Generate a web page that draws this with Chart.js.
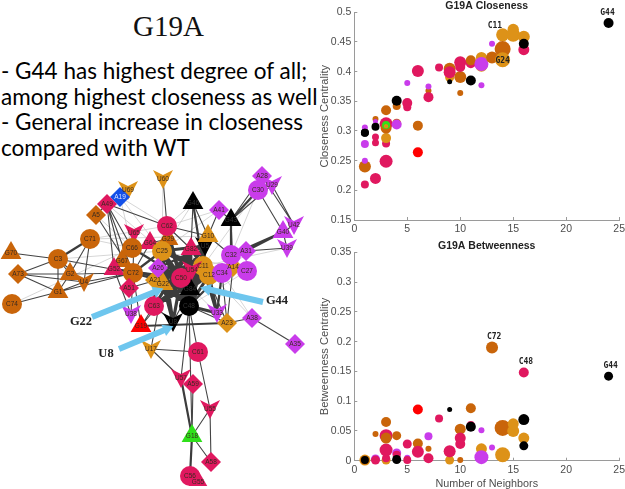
<!DOCTYPE html>
<html>
<head>
<meta charset="utf-8">
<title>G19A</title>
<script src="https://cdn.jsdelivr.net/npm/chart.js@4/dist/chart.umd.min.js"></script>
<style>
    html, body { margin: 0; padding: 0; background: #fff; overflow: hidden; }
    #page { position: relative; width: 625px; height: 489px; overflow: hidden; }
    canvas { position: absolute; }
    #heading { position: absolute; left: 0; top: 10px; width: 337px; text-align: center; font: 29px "Liberation Serif", serif; color: #111; }
    #notes { position: absolute; left: 1px; top: 58px; font: 22.5px/25.6px Lato, sans-serif; color: #000; white-space: nowrap; }
</style>
</head>
<body>
<div id="page">
    <div id="heading">G19A</div>
    <div id="notes">- G44 has highest degree of all;<br>among highest closeness as well<br>- General increase in closeness<br>compared with WT</div>
    <canvas id="network" width="320" height="326" style="left:0;top:160px"></canvas>
    <canvas id="closeness" width="311" height="240" style="left:320px;top:0"></canvas>
    <canvas id="betweenness" width="311" height="249" style="left:320px;top:240px"></canvas>
</div>
<script>
// groups: o = dark orange, m = mustard, c = crimson, p = purple, k = black, r = red, g = green, b = blue
const groupColors = { o: '#c9650a', m: '#dd9218', c: '#e0185f', p: '#c93ceb', k: '#000000', r: '#ff0000', g: '#2fe01a', b: '#1450e8' };

// closeness vs neighbors
const closeNeighbors = [1, 1, 2, 1, 1, 1, 2, 2, 3, 3, 3, 3, 2, 2, 2, 3, 3, 3, 3, 3, 4, 4, 4, 4, 5, 5, 5, 6, 6, 6, 7, 7, 7, 8, 9, 9, 9, 9, 10, 10, 10, 10, 11, 11, 11, 12, 12, 12, 12, 13, 13, 14, 14, 14, 15, 15, 16, 16, 16, 24, 1, 1];
const closeValues = [0.21, 0.24, 0.22, 0.25, 0.278, 0.306, 0.28, 0.29, 0.249, 0.279, 0.288, 0.335, 0.32, 0.316, 0.307, 0.312, 0.305, 0.31, 0.308, 0.308, 0.342, 0.351, 0.313, 0.311, 0.34, 0.347, 0.381, 0.309, 0.264, 0.401, 0.368, 0.375, 0.357, 0.407, 0.39, 0.405, 0.399, 0.383, 0.364, 0.391, 0.408, 0.416, 0.414, 0.419, 0.385, 0.41, 0.424, 0.413, 0.377, 0.424, 0.447, 0.462, 0.438, 0.42, 0.471, 0.462, 0.459, 0.437, 0.447, 0.482, 0.297, 0.297];
const closeSizes = [4, 6, 5.5, 3, 4, 3, 3.5, 3.5, 6.5, 4, 5, 5, 3, 2.5, 4, 6.5, 5.5, 4, 2, 2, 4, 5, 4.5, 5, 4, 5, 3, 5, 5, 6, 3, 3, 5, 4, 4.5, 6, 6, 2.5, 3, 6, 5, 6, 5, 5, 5, 6, 5.5, 7, 3, 6, 3, 6.5, 8, 7.5, 5.7, 7, 6, 5.5, 5, 5, 4, 4];
const closeGroups = ['c', 'o', 'c', 'p', 'p', 'p', 'c', 'c', 'c', 'c', 'm', 'o', 'o', 'p', 'k', 'c', 'o', 'g', 'm', 'm', 'o', 'k', 'o', 'p', 'c', 'c', 'p', 'o', 'r', 'c', 'o', 'p', 'c', 'c', 'm', 'o', 'c', 'k', 'o', 'o', 'c', 'c', 'c', 'o', 'k', 'm', 'm', 'p', 'p', 'o', 'p', 'm', 'o', 'm', 'm', 'm', 'm', 'c', 'k', 'k', 'k', 'k'];
const closeNotes = ['C11', 'G24', 'G44'];
const closeNoteX = [13.27, 14, 23.9];
const closeNoteY = [0.4775, 0.418, 0.499];

// betweenness vs neighbors
const betweenNeighbors = [1, 1, 1, 2, 2, 2, 3, 3, 3, 3, 3, 3, 4, 4, 4, 4, 5, 5, 5, 6, 6, 6, 7, 7, 7, 8, 9, 9, 9, 9, 10, 10, 10, 10, 11, 11, 11, 12, 12, 12, 13, 13, 14, 14, 15, 15, 16, 16, 16, 16, 24];
const betweenValues = [0.001, 0.001, 0.001, 0.045, 0.003, 0.001, 0.001, 0.004, 0.018, 0.042, 0.038, 0.065, 0.042, 0.013, 0.01, 0.002, 0.028, 0.005, 0.001, 0.029, 0.015, 0.086, 0.041, 0.02, 0.004, 0.071, 0.001, 0.014, 0.016, 0.086, 0.001, 0.053, 0.028, 0.038, 0.088, 0.06, 0.057, 0.02, 0.051, 0.006, 0.19, 0.022, 0.01, 0.055, 0.05, 0.062, 0.038, 0.148, 0.025, 0.069, 0.142];
const betweenSizes = [5.5, 4.5, 4, 3, 4.5, 4.5, 4.5, 4, 6.5, 6.5, 5.5, 5, 4.5, 4.5, 4, 4.5, 4.5, 3, 4, 5, 6, 5, 4, 3, 5, 4, 4.5, 5, 6, 2.5, 3, 5.5, 5, 5.5, 5, 4, 5, 5.5, 3, 7, 6, 3, 7.5, 8, 6, 5.5, 5.5, 5, 4.5, 5.5, 4.5];
const betweenGroups = ['m', 'o', 'k', 'o', 'p', 'c', 'm', 'c', 'c', 'c', 'o', 'o', 'o', 'p', 'c', 'k', 'c', 'p', 'c', 'o', 'c', 'r', 'p', 'o', 'c', 'c', 'm', 'o', 'c', 'k', 'o', 'o', 'c', 'c', 'o', 'c', 'k', 'm', 'p', 'p', 'o', 'p', 'm', 'o', 'm', 'm', 'm', 'c', 'k', 'k', 'k'];
const betweenNotes = ['C72', 'C48', 'G44'];
const betweenNoteX = [13.2, 16.2, 24.2];
const betweenNoteY = [0.208, 0.166, 0.159];

// network nodes, first letter of the name gives the shape
const nodeNames = ['G70', 'C3', 'A73', 'G2', 'U4', 'G1', 'C74', 'C71', 'A5', 'U69', 'A19', 'A49', 'U60', 'G46', 'G43', 'A41', 'A28', 'U29', 'C30', 'U42', 'G40', 'U39', 'G29', 'C62', 'U5', 'G10', 'G82', 'U65', 'G64', 'G67', 'C66', 'C25', 'G52', 'C72', 'A51', 'A14', 'A31', 'C27', 'C11', 'C12', 'C32', 'C34', 'G84', 'A21', 'G22', 'A26', 'U54', 'C50', 'C63', 'C48', 'U38', 'U33', 'A23', 'A38', 'A35', 'G19', 'U8', 'U17', 'C61', 'U57', 'A59', 'U55', 'G18', 'A58', 'G55', 'C56'];
const nodeX = [11, 58, 18, 70, 84, 58, 12, 90, 96, 128, 120, 107, 163, 193, 231, 219, 262, 272, 258, 294, 283, 287, 168, 167, 205, 208, 191, 134, 150, 122, 132, 162, 114, 133, 129, 233, 246, 247, 203, 209, 231, 222, 190, 155, 163, 158, 192, 181, 154, 189, 131, 217, 227, 252, 295, 141, 173, 151, 198, 181, 193, 210, 192, 211, 198, 190];
const nodeY = [253, 259, 274, 274, 282, 292, 304, 239, 215, 190, 197, 204, 179, 203, 220, 210, 176, 185, 190, 225, 232, 248, 239, 226, 246, 236, 249, 233, 243, 261, 248, 251, 269, 273, 288, 267, 251, 271, 266, 275, 255, 273, 289, 280, 284, 268, 270, 278, 306, 306, 314, 313, 323, 318, 344, 326, 322, 349, 352, 378, 384, 409, 436, 462, 482, 476];
const nodeGroups = ['o', 'o', 'o', 'o', 'o', 'o', 'o', 'o', 'o', 'm', 'b', 'c', 'm', 'k', 'k', 'p', 'p', 'p', 'p', 'p', 'p', 'p', 'o', 'c', 'k', 'm', 'c', 'c', 'c', 'o', 'o', 'm', 'c', 'o', 'c', 'm', 'p', 'p', 'm', 'm', 'p', 'p', 'k', 'm', 'm', 'p', 'c', 'c', 'c', 'k', 'p', 'p', 'm', 'p', 'p', 'r', 'k', 'm', 'c', 'c', 'c', 'c', 'g', 'c', 'c', 'c'];

// network edges as "from to" by weight
const lightEdges = ['A19 C66', 'A19 C25', 'A19 C62', 'A49 C25', 'C71 C66', 'C71 C62', 'A5 C66', 'C3 C25', 'G46 C62', 'G46 C25', 'C30 C11', 'C30 C32', 'A41 C25', 'A38 C11', 'A38 C34', 'A14 C25', 'C74 C66', 'U60 C25', 'C27 C48', 'C62 A41', 'G10 C71', 'A23 C50', 'U39 C11', 'A31 C27'];
const mediumEdges = ['C3 G70', 'C3 A73', 'A73 G1', 'A73 G2', 'A73 U4', 'C74 G1', 'G1 U4', 'G1 C3', 'G1 G2', 'C3 G2', 'C3 U4', 'C71 U4', 'C71 G2', 'G2 C72', 'U4 C72', 'G1 C72', 'C3 C72', 'A49 C66', 'A49 G52', 'A49 C72', 'A49 C62', 'A5 A49', 'A5 C72', 'A49 G67', 'U60 C62', 'C62 G10', 'C62 G82', 'G46 G10', 'G46 G82', 'A41 G43', 'A41 G10', 'G43 A28', 'G43 U29', 'C30 G40', 'U29 U42', 'A28 U42', 'A31 U39', 'G40 U39', 'U42 G40', 'A38 A35', 'A23 A38', 'G43 A14', 'A14 A23', 'C34 A23', 'U17 C61', 'U17 U57', 'U17 G22', 'C61 U55', 'C48 U57', 'C48 C61', 'C48 G18', 'A59 G18', 'U55 G18', 'U55 A58', 'G18 A58', 'U65 C66', 'G64 C72', 'G64 C66', 'C66 G52', 'C63 G19', 'U38 C72', 'U38 G52', 'C48 A23', 'C11 A23', 'C62 C25', 'U65 C72', 'G29 G64', 'C32 G10', 'A51 C72', 'A51 U54', 'G19 C72', 'G19 C50', 'U8 C63', 'U8 C11'];
const heavyEdges = ['C71 C3', 'G43 C30', 'C32 G40', 'A31 G40', 'U57 G18', 'G18 C56', 'G43 C32', 'G46 C11', 'G19 A23', 'C62 C50', 'G10 C11', 'G10 G22', 'C66 C50', 'G52 C50', 'C72 C25', 'C72 G84', 'A21 C63', 'U33 C34', 'C48 C34', 'C62 C48', 'G29 C48', 'G10 C48', 'U5 C48', 'C25 C34', 'A26 U5', 'C25 C63'];
const coreEdges = ['G22 C48', 'C25 C48', 'C50 C48', 'C11 C48', 'G84 C25', 'C25 C50', 'C25 C11', 'A21 C48', 'C72 C50', 'C12 C48', 'C12 C63', 'U33 C11', 'A26 C48', 'G82 C48', 'A26 C11', 'A26 G84', 'G82 G22', 'G22 U8', 'C25 U8', 'U33 C12', 'G82 C63', 'C25 C12', 'C50 U8', 'A21 G84', 'G22 C12', 'C11 C63', 'U54 A21', 'G82 C50', 'G82 G84', 'U5 C25', 'G82 C12', 'C11 C50', 'C12 C50', 'A26 C50', 'G22 G84', 'C48 U33', 'G84 C12', 'C11 G84', 'U5 C50', 'U5 G84'];

// pale blue callout arrows
const arrowNames = ['G22', 'G44', 'U8'];
const arrowFromX = [92, 263, 119];
const arrowFromY = [317, 302, 349];
const arrowToX = [157, 207, 167];
const arrowToY = [291, 289, 329];
const arrowLabelX = [81, 277, 106];
const arrowLabelY = [322, 301, 354];

function nodePoint(name) {
    const i = nodeNames.indexOf(name);
    return { x: nodeX[i], y: nodeY[i] };
}

function edgePoints(edges) {
    const points = [];
    edges.forEach(edge => {
        const [from, to] = edge.split(' ');
        points.push(nodePoint(from), nodePoint(to), { x: NaN, y: NaN });
    });
    return points;
}

// the U nodes are drawn as notched chevrons
const chevrons = {};
function chevron(group) {
    if (!chevrons[group]) {
        const c = document.createElement('canvas');
        c.width = 20;
        c.height = 20;
        const g = c.getContext('2d');
        g.fillStyle = groupColors[group];
        g.beginPath();
        g.moveTo(0, 1);
        g.lineTo(10, 6);
        g.lineTo(20, 1);
        g.lineTo(10, 20);
        g.closePath();
        g.fill();
        chevrons[group] = c;
    }
    return chevrons[group];
}

function nodeStyle(name, group) {
    const kind = name[0];
    if (kind === 'C') return 'circle';
    if (kind === 'G') return 'triangle';
    if (kind === 'A') return 'rectRot';
    return chevron(group);
}

const nodeLabels = {
    id: 'nodeLabels',
    afterDatasetsDraw(chart) {
        const { ctx, scales } = chart;
        ctx.save();
        ctx.textAlign = 'center';
        ctx.textBaseline = 'middle';
        ctx.font = '6.5px "Liberation Sans"';
        nodeNames.forEach((name, i) => {
            ctx.fillStyle = nodeGroups[i] === 'b' ? '#dde6ff' : nodeGroups[i] === 'k' ? '#333' : '#3a2a20';
            ctx.fillText(name, scales.x.getPixelForValue(nodeX[i]), scales.y.getPixelForValue(nodeY[i]));
        });
        ctx.font = 'bold 12.5px "Liberation Serif"';
        ctx.fillStyle = '#222';
        arrowNames.forEach((name, i) => {
            ctx.fillText(name, scales.x.getPixelForValue(arrowLabelX[i]), scales.y.getPixelForValue(arrowLabelY[i]));
        });
        ctx.restore();
    }
};

const arrowSets = arrowNames.map((name, i) => ({
    label: name,
    data: [{ x: arrowFromX[i], y: arrowFromY[i] }, { x: arrowToX[i], y: arrowToY[i] }],
    showLine: true,
    borderColor: '#6ec6ee',
    borderWidth: 6,
    pointRadius: [0, 7],
    pointStyle: 'triangle',
    pointBackgroundColor: '#6ec6ee',
    pointBorderWidth: 0,
    pointRotation: [0, Math.atan2(arrowToX[i] - arrowFromX[i], arrowFromY[i] - arrowToY[i]) * 180 / Math.PI],
    order: 0
}));

function edgeSet(label, edges, color, width, order) {
    return {
        label: label,
        data: edgePoints(edges),
        showLine: true,
        borderColor: color,
        borderWidth: width,
        pointRadius: 0,
        order: order
    };
}

new Chart(document.getElementById('network'), {
    type: 'scatter',
    data: {
        datasets: [
            ...arrowSets,
            {
                label: 'nodes',
                data: nodeNames.map((name, i) => ({ x: nodeX[i], y: nodeY[i] })),
                pointStyle: nodeNames.map((name, i) => nodeStyle(name, nodeGroups[i])),
                pointRadius: nodeNames.map(name => name[0] === 'G' ? 12 : 10),
                backgroundColor: nodeGroups.map(g => groupColors[g]),
                borderWidth: 0,
                order: 1
            },
            edgeSet('core', coreEdges, '#3c3c3c', 3.2, 2),
            edgeSet('heavy', heavyEdges, '#3c3c3c', 2.2, 3),
            edgeSet('medium', mediumEdges, '#444444', 1.1, 4),
            edgeSet('light', lightEdges, '#c4c4c4', 0.7, 5)
        ]
    },
    options: {
        responsive: false,
        animation: false,
        devicePixelRatio: 1,
        layout: { padding: 0, autoPadding: false },
        plugins: { legend: { display: false }, tooltip: { enabled: false } },
        scales: {
            x: { type: 'linear', min: 0, max: 320, display: false },
            y: { type: 'linear', min: 160, max: 486, reverse: true, display: false }
        }
    },
    plugins: [nodeLabels]
});

// small monospace labels next to the named residues
function notePlugin(names, xs, ys) {
    return {
        id: 'notes',
        afterDatasetsDraw(chart) {
            const { ctx, scales } = chart;
            ctx.save();
            ctx.textAlign = 'center';
            ctx.textBaseline = 'middle';
            ctx.font = 'bold 8px "DejaVu Sans Mono"';
            ctx.fillStyle = '#222';
            names.forEach((name, i) => {
                ctx.fillText(name, scales.x.getPixelForValue(xs[i]), scales.y.getPixelForValue(ys[i]));
            });
            ctx.restore();
        }
    };
}

function makeScatter(id, cfg) {
    new Chart(document.getElementById(id), {
        type: 'bubble',
        data: {
            datasets: [{
                label: cfg.title,
                data: cfg.xs.map((x, i) => ({ x: x, y: cfg.ys[i], r: cfg.sizes[i] })),
                backgroundColor: cfg.groups.map(g => groupColors[g]),
                borderWidth: 0,
                clip: false
            }]
        },
        options: {
            responsive: false,
            animation: false,
            devicePixelRatio: 1,
            layout: { padding: 0, autoPadding: false },
            plugins: {
                legend: { display: false },
                tooltip: { enabled: false },
                title: {
                    display: true,
                    fullSize: false,
                    text: cfg.title,
                    color: '#222',
                    font: { family: '"Liberation Sans"', size: 10.5, weight: 'bold', lineHeight: 1 },
                    padding: { top: cfg.titleTop, bottom: cfg.titleGap }
                }
            },
            scales: {
                x: {
                    type: 'linear',
                    min: 0,
                    max: 25,
                    afterFit: s => { s.height = cfg.xHeight; },
                    border: { color: '#9a9a9a' },
                    grid: { drawOnChartArea: false, tickLength: -3, tickColor: '#9a9a9a' },
                    ticks: { stepSize: 5, padding: 6, maxRotation: 0, color: '#4d4d4d', font: { family: '"Liberation Sans"', size: 10.5 } },
                    title: {
                        display: !!cfg.xLabel,
                        text: cfg.xLabel,
                        color: '#4d4d4d',
                        padding: 0,
                        font: { family: '"Liberation Sans"', size: 10.8, lineHeight: 1 }
                    }
                },
                y: {
                    type: 'linear',
                    min: cfg.yMin,
                    max: cfg.yMax,
                    afterFit: s => { s.width = 34.3; },
                    border: { color: '#9a9a9a' },
                    grid: { drawOnChartArea: false, tickLength: -3, tickColor: '#9a9a9a' },
                    ticks: {
                        stepSize: 0.05,
                        padding: 6,
                        color: '#4d4d4d',
                        font: { family: '"Liberation Sans"', size: 10.5 },
                        callback: v => String(+v.toFixed(2))
                    },
                    title: {
                        display: true,
                        text: cfg.yLabel,
                        color: '#4d4d4d',
                        padding: 0,
                        font: { family: '"Liberation Sans"', size: 11.2, lineHeight: 0.8 }
                    }
                }
            }
        },
        plugins: [notePlugin(cfg.notes, cfg.noteX, cfg.noteY)]
    });
}

makeScatter('closeness', {
    title: 'G19A Closeness', titleTop: 0, titleGap: 1.2, xHeight: 20,
    xs: closeNeighbors, ys: closeValues, sizes: closeSizes, groups: closeGroups,
    yMin: 0.15, yMax: 0.5, yLabel: 'Closeness Centrality', xLabel: '',
    notes: closeNotes, noteX: closeNoteX, noteY: closeNoteY
});

makeScatter('betweenness', {
    title: 'G19A Betweenness', titleTop: 1, titleGap: 0.8, xHeight: 28.3,
    xs: betweenNeighbors, ys: betweenValues, sizes: betweenSizes, groups: betweenGroups,
    yMin: 0, yMax: 0.35, yLabel: 'Betweenness Centrality', xLabel: 'Number of Neighbors',
    notes: betweenNotes, noteX: betweenNoteX, noteY: betweenNoteY
});
</script>
</body>
</html>
